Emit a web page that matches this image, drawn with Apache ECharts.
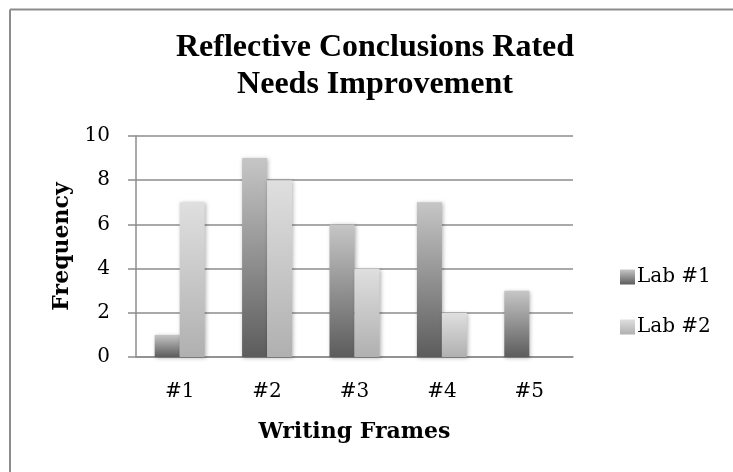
<!DOCTYPE html>
<html>
<head>
<meta charset="utf-8">
<script src="https://cdn.jsdelivr.net/npm/echarts@6/dist/echarts.min.js"></script>
<style>
  html, body { margin: 0; padding: 0; background: #fff; }
  #chart { width: 733px; height: 472px; }
</style>
</head>
<body>
<div id="chart"></div>
<script>
// data
const categories = ['#1', '#2', '#3', '#4', '#5'];
const lab1 = [1, 9, 6, 7, 3];
const lab2 = [7, 8, 4, 2, 0];
const yTicks = { min: 0, max: 10, interval: 2 };

const serif = 'DejaVu Serif';
const gridColor = '#8c8c8c';

const myChart = echarts.init(document.getElementById('chart'));

function grad(top, bottom) {
  return new echarts.graphic.LinearGradient(0, 0, 0, 1, [
    { offset: 0, color: top },
    { offset: 1, color: bottom },
  ]);
}

const barShadow = {
  shadowBlur: 4,
  shadowColor: 'rgba(0, 0, 0, 0.3)',
  shadowOffsetX: 1,
  shadowOffsetY: 1,
};

const option = {
  backgroundColor: '#fff',
  animation: false,
  title: {
    text: 'Reflective Conclusions Rated\nNeeds Improvement',
    left: 375,
    top: 29,
    padding: 0,
    textAlign: 'center',
    textStyle: {
      fontFamily: 'Liberation Serif',
      fontWeight: 'bold',
      fontSize: 32,
      lineHeight: 37,
      color: '#000',
    },
  },
  legend: {
    orient: 'vertical',
    left: 615,
    top: 262,
    itemWidth: 15,
    itemHeight: 15,
    itemGap: 30,
    icon: 'rect',
    data: ['Lab #1', 'Lab #2'],
    textStyle: {
      fontFamily: serif,
      fontSize: 20,
      color: '#000',
      padding: [0, 0, 0, -3],
    },
  },
  grid: {
    left: 136,
    right: 160,
    top: 136,
    bottom: 115,
    containLabel: false,
  },
  xAxis: {
    type: 'category',
    data: categories,
    name: 'Writing Frames',
    nameLocation: 'middle',
    nameGap: 64,
    nameTextStyle: {
      fontFamily: serif,
      fontWeight: 'bold',
      fontSize: 22,
      color: '#000',
      verticalAlign: 'top',
    },
    axisTick: { show: false },
    axisLine: { lineStyle: { color: gridColor, width: 1.5 } },
    axisLabel: {
      margin: 25,
      fontFamily: serif,
      fontSize: 20,
      color: '#000',
    },
  },
  yAxis: {
    type: 'value',
    min: yTicks.min,
    max: yTicks.max,
    interval: yTicks.interval,
    name: 'Frequency',
    nameLocation: 'middle',
    nameRotate: 90,
    nameGap: 63,
    nameTextStyle: {
      fontFamily: serif,
      fontWeight: 'bold',
      fontSize: 22,
      color: '#000',
    },
    axisLine: { show: true, lineStyle: { color: gridColor, width: 1.5 } },
    axisTick: { show: true, inside: false, length: 8, lineStyle: { color: gridColor, width: 1.5 } },
    splitLine: { lineStyle: { color: gridColor, width: 1.5 } },
    axisLabel: {
      margin: 26,
      fontFamily: serif,
      fontSize: 20,
      color: '#000',
    },
  },
  series: [
    {
      name: 'Lab #1',
      type: 'bar',
      data: lab1,
      barWidth: 25,
      barGap: 0,
      itemStyle: Object.assign({ color: grad('#c6c6c6', '#5c5c5c') }, barShadow),
    },
    {
      name: 'Lab #2',
      type: 'bar',
      data: lab2,
      barWidth: 25,
      barGap: 0,
      itemStyle: Object.assign({ color: grad('#dfdfdf', '#b0b0b0') }, barShadow),
    },
  ],
  // frame of the chart area (cut off at right and bottom in the original)
  graphic: [
    {
      type: 'line',
      shape: { x1: 10, y1: 9.5, x2: 733, y2: 9.5 },
      style: { stroke: gridColor, lineWidth: 2 },
    },
    {
      type: 'line',
      shape: { x1: 10, y1: 9.5, x2: 10, y2: 472 },
      style: { stroke: gridColor, lineWidth: 2 },
    },
  ],
};

myChart.setOption(option);
</script>
</body>
</html>
